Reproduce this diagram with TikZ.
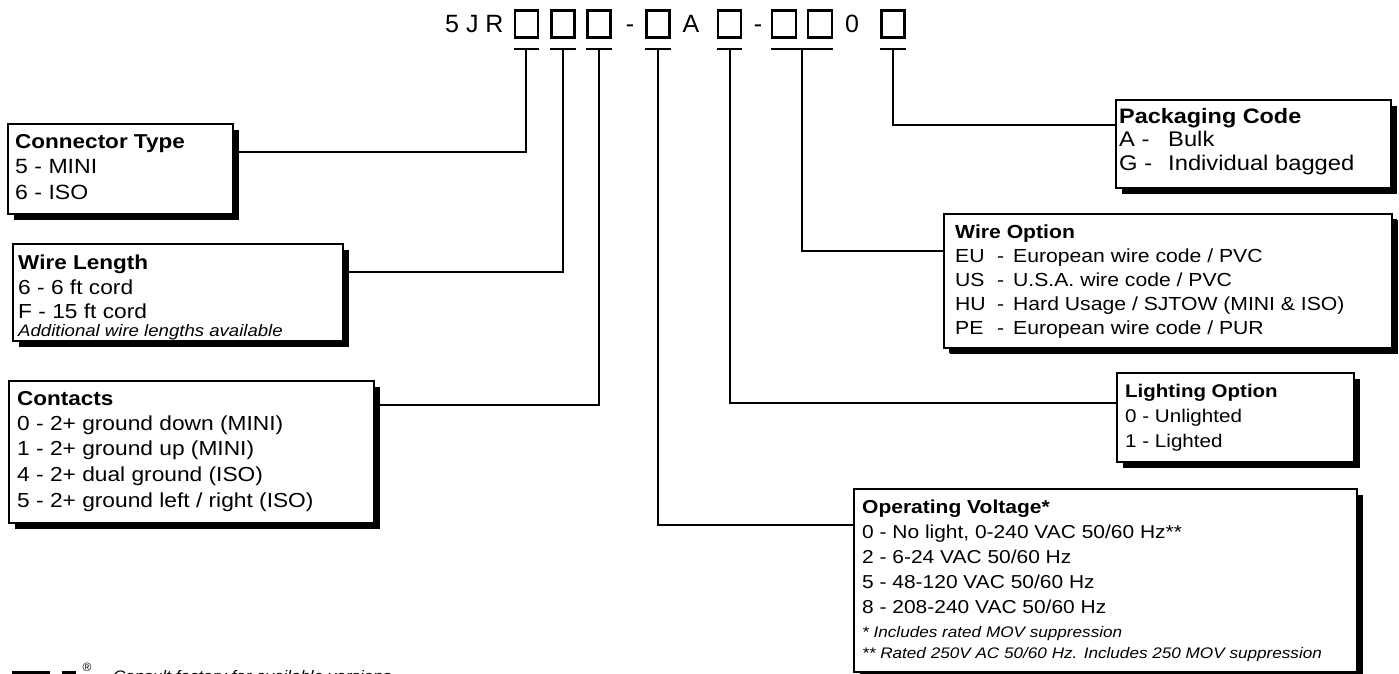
\documentclass[tikz,border=0pt]{standalone}
\usepackage{fontspec}
\setmainfont{Liberation Sans}[FakeStretch=1.12]
\newfontfamily\plainsf{Liberation Sans}
\usetikzlibrary{shadows}
\newcommand{\cw}[2]{\makebox[#1][l]{#2}}
\begin{document}
\begin{tikzpicture}[x=1pt,y=-1pt,
  lbl/.style={anchor=base west, inner sep=0pt, font=\fontsize{#1}{#1}\selectfont},
  ttl/.style={anchor=base west, inner sep=0pt, font=\fontsize{#1}{#1}\selectfont\bfseries},
  note/.style={anchor=base west, inner sep=0pt, font=\fontsize{#1}{#1}\selectfont\itshape},
  hdr/.style={anchor=base, inner sep=0pt, font=\plainsf\fontsize{25}{25}\selectfont},
  panel/.style={draw, line width=2pt, fill=white, anchor=north west, inner sep=0pt,
    drop shadow={shadow xshift=6pt, shadow yshift=-6pt, fill=black, opacity=1}},
  cbox/.style={draw, line width=2.4pt, minimum width=23pt, minimum height=27pt, inner sep=0pt},
  bar/.style={line width=2.7pt},
  lead/.style={line width=2pt}]
\useasboundingbox (0,0) rectangle (1399,673);
\clip (0,0) rectangle (1399,673);
\fill[white] (0,0) rectangle (1399,673);

% ---------- header code ----------
\node[hdr, anchor=base west] (h0) at (445,32) {5 J R};
\node[cbox] (b1) at (526.5,24) {};
\node[cbox] (b2) at (563,24) {};
\node[cbox] (b3) at (599,24) {};
\node[hdr] (d1) at (630,32) {-};
\node[cbox] (b4) at (658,24) {};
\node[hdr] (hA) at (691,32) {A};
\node[cbox] (b5) at (729.5,24) {};
\node[hdr] (d2) at (758,32) {-};
\node[cbox, minimum width=24pt] (b6) at (784,24) {};
\node[cbox, minimum width=24pt] (b7) at (820,24) {};
\node[hdr] (h0b) at (852,32) {0};
\node[cbox] (b8) at (893,24) {};

% under-bars
\coordinate (u1) at (526,49);
\coordinate (u2) at (563,49);
\coordinate (u3) at (599,49);
\coordinate (u4) at (658,49);
\coordinate (u5) at (730,49);
\coordinate (u6) at (802,49);
\coordinate (u8) at (893,49);
\draw[bar] (b1.west |- u1) -- (b1.east |- u1);
\draw[bar] (b2.west |- u2) -- (b2.east |- u2);
\draw[bar] (b3.west |- u3) -- (b3.east |- u3);
\draw[bar] (b4.west |- u4) -- (b4.east |- u4);
\draw[bar] (b5.west |- u5) -- (b5.east |- u5);
\draw[bar] (b6.west |- u6) -- (b7.east |- u6);
\draw[bar] (b8.west |- u8) -- (b8.east |- u8);

% ---------- panels ----------
\node[panel, minimum width=225pt, minimum height=90pt] (ct) at (7,123) {};
\node[panel, minimum width=330pt, minimum height=97pt] (wl) at (12,243) {};
\node[panel, minimum width=365pt, minimum height=142pt] (co) at (8,380) {};
\node[panel, minimum width=275pt, minimum height=88pt] (pk) at (1115,99) {};
\node[panel, minimum width=448pt, minimum height=134pt, drop shadow={shadow xshift=5pt, shadow yshift=-5pt, fill=black, opacity=1}] (wo) at (943,213) {};
\node[panel, minimum width=237pt, minimum height=89pt] (lo) at (1116,372) {};
\node[panel, minimum width=503pt, minimum height=183pt] (ov) at (853,488) {};

% ---------- leaders ----------
\coordinate (k1) at (526,152);
\coordinate (k2) at (563,272);
\coordinate (k3) at (599,405);
\coordinate (k4) at (658,525);
\coordinate (k5) at (730,403);
\coordinate (k6) at (802,251);
\coordinate (k8) at (893,125);
\draw[lead] (u1) -- (k1) -- (k1 -| ct.east);
\draw[lead] (u2) -- (k2) -- (k2 -| wl.east);
\draw[lead] (u3) -- (k3) -- (k3 -| co.east);
\draw[lead] (u4) -- (k4) -- (k4 -| ov.west);
\draw[lead] (u5) -- (k5) -- (k5 -| lo.west);
\draw[lead] (u6) -- (k6) -- (k6 -| wo.west);
\draw[lead] (u8) -- (k8) -- (k8 -| pk.west);

% ---------- texts ----------
% Connector Type
\node[ttl=20.1] (ct0) at (15,148) {Connector Type};
\node[lbl=20.6] (ct1) at (15,173) {5 - MINI};
\node[lbl=20.6] (ct2) at (15,199) {6 - ISO};
% Wire Length
\node[ttl=20.1] (wl0) at (18,269) {Wire Length};
\node[lbl=20.3] (wl1) at (18,294) {6 - 6 ft cord};
\node[lbl=20.3] (wl2) at (18,318) {F - 15 ft cord};
\node[note=16.6] (wl3) at (18,336) {Additional wire lengths available};
% Contacts
\node[ttl=20.1] (co0) at (17,405) {Contacts};
\node[lbl=20.3] (co1) at (17,430) {0 - 2+ ground down (MINI)};
\node[lbl=20.3] (co2) at (17,455) {1 - 2+ ground up (MINI)};
\node[lbl=20.3] (co3) at (17,481) {4 - 2+ dual ground (ISO)};
\node[lbl=20.3] (co4) at (17,507) {5 - 2+ ground left / right (ISO)};
% Packaging Code
\node[ttl=20.9] (pk0) at (1119,123) {Packaging Code};
\node[lbl=21.2] (pk1) at (1119,146) {\cw{49pt}{A -}Bulk};
\node[lbl=21.2] (pk2) at (1119,170) {\cw{49pt}{G -}Individual bagged};
% Wire Option
\node[ttl=18.9] (wo0) at (955,238) {Wire Option};
\node[lbl=18.9] (wo1) at (955,262) {\cw{42pt}{EU}\cw{16pt}{-}European wire code / PVC};
\node[lbl=18.9] (wo2) at (955,286) {\cw{42pt}{US}\cw{16pt}{-}U.S.A. wire code / PVC};
\node[lbl=18.9] (wo3) at (955,310) {\cw{42pt}{HU}\cw{16pt}{-}Hard Usage / SJTOW (MINI \& ISO)};
\node[lbl=18.9] (wo4) at (955,334) {\cw{42pt}{PE}\cw{16pt}{-}European wire code / PUR};
% Lighting Option
\node[ttl=18.3] (lo0) at (1125,397) {Lighting Option};
\node[lbl=18.4] (lo1) at (1125,422) {0 - Unlighted};
\node[lbl=18.4] (lo2) at (1125,447) {1 - Lighted};
% Operating Voltage
\node[ttl=18.75] (ov0) at (862,513) {Operating Voltage*};
\node[lbl=18.7] (ov1) at (862,538) {0 - No light, 0-240 VAC 50/60 Hz**};
\node[lbl=18.7] (ov2) at (862,563) {2 - 6-24 VAC 50/60 Hz};
\node[lbl=18.7] (ov3) at (862,588) {5 - 48-120 VAC 50/60 Hz};
\node[lbl=18.7] (ov4) at (862,613) {8 - 208-240 VAC 50/60 Hz};
\node[note=15.3] (ov5) at (862,637) {* Includes rated MOV suppression};
\node[note=15.3] (ov6) at (862,658) {** Rated 250V AC 50/60 Hz. Includes 250 MOV suppression};

% ---------- footer (cut off) ----------
\fill (12,670.5) rectangle (50,674);
\fill (62,670.5) rectangle (76,674);
\node[anchor=base, inner sep=0pt, font=\plainsf\fontsize{12}{12}\selectfont] (reg) at (87,671) {®};
\node[note=15.2] (ft) at (113,681.5) {Consult factory for available versions};
\end{tikzpicture}
\end{document}
